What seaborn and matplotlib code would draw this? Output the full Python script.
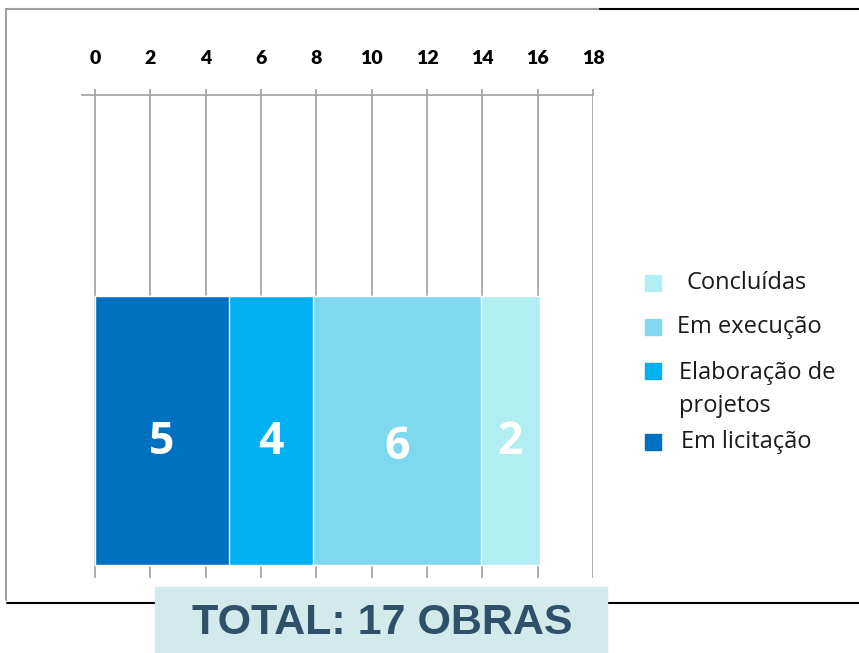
import numpy as np
import pandas as pd
import seaborn as sns
import matplotlib.pyplot as plt
from matplotlib.lines import Line2D
from matplotlib.patches import Rectangle

situacoes = ["Em licitação", "Elaboração de projetos", "Em execução", "Concluídas"]
largura = [4.84, 3.04, 6.07, 2.13]
rotulos = [5, 4, 6, 2]
cores = ["#0070C0", "#00B0F0", "#7FD9EE", "#B1EEF2"]
legenda = ["Concluídas", "Em execução", "Elaboração de\nprojetos", "Em licitação"]
ticks = list(range(0, 19, 2))
total = "TOTAL: 17 OBRAS"

sns.set_theme(style="white")
plt.rcParams['font.family'] = ['Open Sans', 'DejaVu Sans']

fig = plt.figure(figsize=(8.59, 6.53), dpi=100)
W, H = 859, 653
ax = fig.add_axes([82 / W, (H - 578) / H, (593 - 82) / W, 483 / H])

df = pd.DataFrame({"situacao": situacoes, "largura": largura, "cor": cores})
df["acumulado"] = df["largura"].cumsum()
df["inicio"] = df["acumulado"] - df["largura"]

# barras empilhadas: desenha do maior acumulado para o menor
for i in reversed(range(len(df))):
    sns.barplot(x=[df["acumulado"][i]], y=[""], orient="h", color=df["cor"][i],
                saturation=1, width=0.8, ax=ax, zorder=2)

ajuste_y = [-0.035, -0.035, -0.05, -0.035]
for i in range(len(df)):
    ax.text(df["inicio"][i] + df["largura"][i] / 2, ajuste_y[i], str(rotulos[i]),
            color="white", fontsize=32, fontweight="bold", ha="center", va="center", zorder=3)

ax.set_xlim(-0.47, 18)
ax.set_ylim(-0.4388, 0.997)
ax.set_xticks(ticks)
ax.set_xticklabels([str(t) for t in ticks], fontweight="heavy", fontsize=14,
                   family=['Lato', 'DejaVu Sans'])
ax.xaxis.tick_top()
ax.tick_params(axis="x", length=4, width=1.2, color="#A0A0A0", pad=16, labelcolor="black")
ax.set_yticks([])
ax.set_xlabel("")
ax.set_ylabel("")
ax.grid(axis="x", color="#A0A0A0", linewidth=1.2)
ax.set_axisbelow(True)
for s in ["left", "right", "bottom"]:
    ax.spines[s].set_visible(False)
ax.spines["top"].set_color("#A0A0A0")
ax.spines["top"].set_linewidth(1.2)

# legenda manual
leg_y = [283, 327, 371, 442]
leg_x = [686, 677, 679, 681]
for cor, txt, y, x in zip(reversed(cores), legenda, leg_y, leg_x):
    fig.patches.append(Rectangle((645 / W, (H - y - 8) / H), 16 / W, 16 / H,
                                 transform=fig.transFigure, color=cor, figure=fig))
    if "\n" in txt:
        fig.text(x / W, (H - y + 10) / H, txt, fontsize=17, va="top", ha="left",
                 color="#1a1a1a", linespacing=1.5)
    else:
        fig.text(x / W, (H - y) / H, txt, fontsize=17, va="center", ha="left", color="#1a1a1a")

# moldura
fig.add_artist(Line2D([6 / W, 600 / W], [(H - 9) / H] * 2, color="#A0A0A0", lw=1.5))
fig.add_artist(Line2D([600 / W, 1], [(H - 9) / H] * 2, color="black", lw=1.5))
fig.add_artist(Line2D([6 / W] * 2, [(H - 9) / H, (H - 600) / H], color="#A0A0A0", lw=1.5))
fig.add_artist(Line2D([7 / W, 1], [(H - 603) / H] * 2, color="black", lw=1.5))

# caixa do total
fig.patches.append(Rectangle((155 / W, 0), (607 - 155) / W, (H - 587) / H,
                             transform=fig.transFigure, color="#D3EAEC", figure=fig, zorder=5))
fig.text(382 / W, (H - 623) / H, total, fontsize=31, fontweight="bold", color="#2E5069",
         ha="center", va="center", family=['Liberation Sans Narrow', 'Liberation Sans'], zorder=6)

fig.savefig("out.png", dpi=100)
